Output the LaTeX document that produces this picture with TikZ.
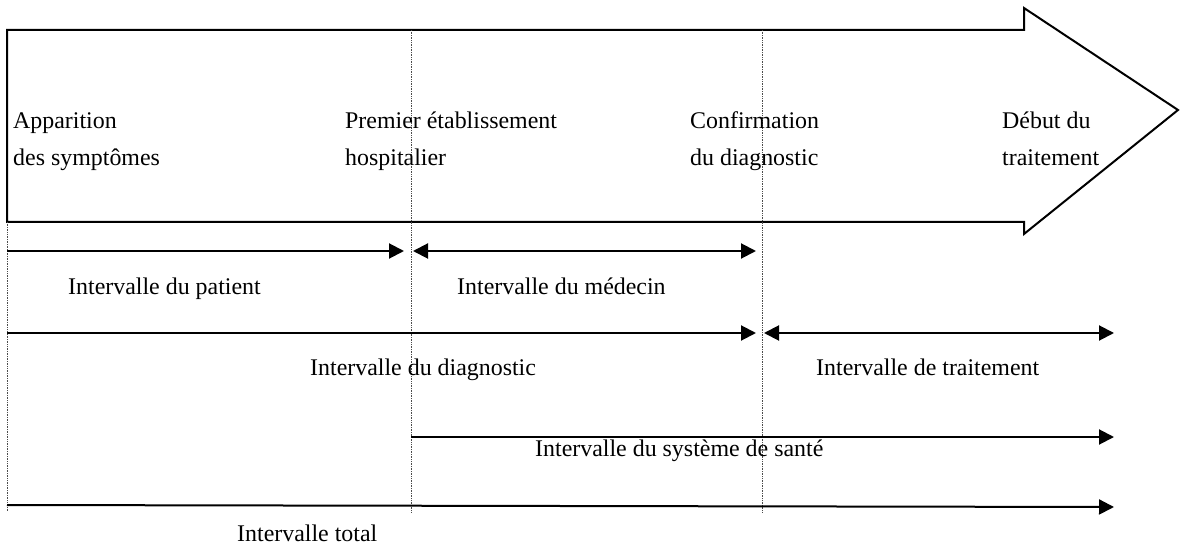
\documentclass[tikz,border=0pt]{standalone}
\usepackage{fontspec}
\setmainfont{Liberation Serif}
\usetikzlibrary{arrows.meta}
\begin{document}
\begin{tikzpicture}[x=1bp,y=-1bp,
  lbl/.style={anchor=base west,inner sep=0pt,font=\fontsize{24}{30}\selectfont},
  outline/.style={line width=2bp,line join=miter},
  guide/.style={densely dotted,line width=0.7bp,black!70},
  iv/.style={line width=2bp,-{Triangle[length=15bp,width=15bp]}},
  ivb/.style={line width=2bp,{Triangle[length=15bp,width=15bp]}-{Triangle[length=15bp,width=15bp]}}]
\useasboundingbox (0,0) rectangle (1180,547);
% big arrow outline
\draw[outline] (7,222) -- (7,30) -- (1024,30) -- (1024,8) -- (1178,110) -- (1024,234) -- (1024,222) -- cycle;
% guides
\coordinate (g1t) at (7,222);   \coordinate (g1b) at (7,512);
\coordinate (g2t) at (411,30);  \coordinate (g2b) at (411,512);
\coordinate (g3t) at (762,30);  \coordinate (g3b) at (762,512);
\draw[guide] (g1t) -- (g1b);
\draw[guide] (g2t) -- (g2b);
\draw[guide] (g3t) -- (g3b);
% milestone labels
\node[lbl] (m1a) at (13,129) {Apparition};
\node[lbl] (m1b) at (13,166) {des symptômes};
\node[lbl] (m2a) at (345,129) {Premier établissement};
\node[lbl] (m2b) at (345,166) {hospitalier};
\node[lbl] (m3a) at (690,129) {Confirmation};
\node[lbl] (m3b) at (690,166) {du diagnostic};
\node[lbl] (m4a) at (1002,129) {Début du};
\node[lbl] (m4b) at (1002,166) {traitement};
% interval arrows
\coordinate (p1) at (7,251);   \coordinate (p2) at (404,251);
\coordinate (q1) at (413,251); \coordinate (q2) at (756,251);
\coordinate (r1) at (7,333);   \coordinate (r2) at (756,333);
\coordinate (s1) at (764,333); \coordinate (s2) at (1114,333);
\coordinate (t1) at (411,437); \coordinate (t2) at (1114,437);
\coordinate (u1) at (7,505);   \coordinate (u2) at (1114,507);
\draw[iv] (p1) -- (p2);
\draw[ivb] (q1) -- (q2);
\draw[iv] (r1) -- (r2);
\draw[ivb] (s1) -- (s2);
\draw[iv] (t1) -- (t2);
\draw[iv] (u1) -- (u2);
% interval labels
\node[lbl] (l1) at (68,295) {Intervalle du patient};
\node[lbl] (l2) at (457,295) {Intervalle du médecin};
\node[lbl] (l3) at (310,376) {Intervalle du diagnostic};
\node[lbl] (l4) at (816,376) {Intervalle de traitement};
\node[lbl] (l5) at (535,456) {Intervalle du système de santé};
\node[lbl] (l6) at (237,541) {Intervalle total};
\end{tikzpicture}
\end{document}
